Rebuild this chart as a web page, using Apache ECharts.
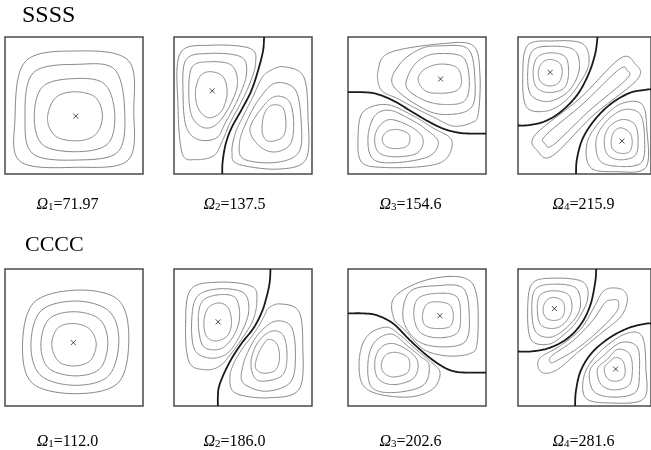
<!DOCTYPE html>
<html><head><meta charset="utf-8">
<script src="https://cdn.jsdelivr.net/npm/echarts@6/dist/echarts.min.js"></script>
<style>html,body{margin:0;padding:0;background:#fff}#c{width:651px;height:450px}</style>
</head><body><div id="c"></div>
<script>
// ---------- text ----------
const rowLabels = ['SSSS', 'CCCC'];
const modeIndex = ['1', '2', '3', '4'];
const ssssOmega = ['71.97', '137.5', '154.6', '215.9'];
const ccccOmega = ['112.0', '186.0', '202.6', '281.6'];

// ---------- digitised contours (x: 0-100 left->right, y: 0-100 top->bottom) ----------
const ssss1Contours = [
 [[49.4,40.0],[65.1,43.7],[70.6,57.0],[66.3,70.4],[54.2,75.7],[37.3,72.8],[30.8,60.2],[36.1,44.9]],
 [[51.8,30.3],[72.3,34.5],[79.5,55.8],[74.7,77.7],[53.0,83.7],[27.7,78.9],[21.2,58.3],[27.7,35.9]],
 [[54.2,19.9],[79.5,23.8],[86.7,53.4],[81.9,83.7],[51.8,89.8],[20.5,85.4],[14.5,60.7],[20.5,26.2]],
 [[51.8,10.2],[89.2,17.0],[93.3,53.4],[89.2,89.8],[51.8,95.1],[11.3,91.0],[7.2,60.7],[14.5,18.2]]
];
const ssss1Nodal = [];
const ssss1Max = [[51.3,57.8]];

const ssss2Contours = [
 [[26.0,25.3],[35.5,29.0],[38.5,41.0],[34.5,54.0],[25.5,59.0],[18.0,53.0],[15.5,41.0],[18.7,29.0]],
 [[24.8,18.1],[41.5,20.5],[46.0,34.0],[40.0,51.0],[30.5,64.0],[21.0,66.0],[13.0,58.0],[10.7,40.0],[13.1,22.0]],
 [[24.8,12.0],[48.5,14.5],[52.5,27.0],[46.5,45.0],[37.5,62.0],[31.0,73.5],[18.0,75.0],[9.0,66.0],[6.6,43.0],[8.5,17.0]],
 [[27.2,6.0],[55.5,8.5],[59.0,20.0],[54.5,35.0],[48.5,48.0],[40.5,63.0],[35.0,76.0],[29.0,86.5],[16.0,89.5],[6.0,85.0],[2.9,50.6],[4.5,12.0]],
 [[73.3,49.4],[79.4,52.5],[81.1,65.1],[78.2,73.5],[68.4,76.1],[64.1,70.4],[64.6,59.0],[68.0,51.8]],
 [[73.3,43.4],[83.5,47.0],[86.7,62.7],[84.2,78.3],[73.3,83.9],[62.4,80.0],[55.0,67.5],[63.6,51.8]],
 [[73.3,33.7],[87.9,38.6],[92.2,62.7],[90.3,84.3],[73.3,91.6],[50.5,89.0],[47.5,77.0],[52.5,62.0],[61.5,45.5]],
 [[68.4,25.3],[79.4,21.7],[93.9,28.9],[97.1,57.8],[95.6,89.2],[75.7,96.4],[46.6,92.8],[42.0,84.3],[44.5,70.0],[50.5,57.0],[57.5,43.0],[63.0,31.0]]
];
const ssss2Nodal = [[[65.3,0],[64.6,9.6],[61.7,21.7],[56.3,38.6],[49.0,53.0],[41.7,66.3],[37.4,78.3],[35.2,91.6],[35.0,100]]];
const ssss2Max = [[27.7,39.3]];

const ssss3Contours = [
 [[66.6,19.8],[78.7,22.2],[82.3,31.9],[78.7,39.1],[66.6,41.1],[55.7,39.1],[50.8,30.7],[55.7,23.4]],
 [[66.6,12.1],[83.5,15.0],[87.9,31.9],[84.7,46.4],[71.4,49.3],[55.7,46.4],[42.4,36.7],[46.0,23.4],[54.5,15.0]],
 [[66.6,6.5],[87.2,8.9],[92.0,31.9],[89.6,51.2],[74.0,56.5],[56.0,53.0],[32.7,35.5],[37.5,19.8],[52.0,8.9]],
 [[69.0,4.8],[90.8,6.5],[95.6,27.1],[94.4,56.0],[89.6,62.5],[76.3,65.0],[62.0,58.5],[48.0,51.5],[36.0,45.0],[24.0,38.5],[21.8,24.6],[30.3,11.4]],
 [[36.3,67.6],[43.6,70.5],[44.8,75.4],[41.9,80.2],[32.7,81.4],[26.6,79.0],[24.9,73.5],[29.1,68.6]],
 [[32.7,60.4],[48.0,67.0],[54.5,75.4],[49.6,85.0],[32.7,87.4],[21.8,83.8],[19.4,72.9],[24.2,63.3]],
 [[30.3,53.5],[45.0,60.0],[56.0,67.0],[65.4,76.6],[58.1,87.4],[32.7,91.8],[17.7,88.6],[14.5,72.9],[19.4,57.5]],
 [[27.8,49.3],[47.2,57.5],[61.7,66.5],[75.0,75.0],[71.4,88.6],[56.9,94.2],[25.4,95.2],[9.7,91.1],[7.3,72.9],[10.9,54.8]]
];
const ssss3Nodal = [[[0,40.3],[10.9,40.3],[20.6,41.5],[32.7,46.4],[44.8,53.6],[56.9,60.9],[69.0,66.9],[81.1,70.0],[92.0,70.5],[100,70.5]]];
const ssss3Max = [[67.1,30.7]];

const ssss4Contours = [
 [[24.2,16.4],[31.5,19.3],[33.2,26.5],[30.3,33.7],[23.0,35.7],[16.9,32.5],[15.3,25.3],[18.2,18.8]],
 [[24.2,11.6],[35.6,14.5],[38.0,26.5],[34.6,37.3],[23.0,40.5],[13.8,36.6],[11.4,25.3],[14.5,14.9]],
 [[24.2,6.7],[42.4,9.6],[46.0,24.1],[38.0,39.5],[23.0,47.0],[9.7,42.2],[7.3,25.3],[10.9,10.1]],
 [[25.4,2.9],[48.4,4.8],[53.3,19.3],[45.5,35.0],[34.5,47.5],[20.6,54.2],[6.1,50.6],[3.6,26.5],[7.3,6.0]],
 [[77.5,66.3],[84.0,69.9],[85.9,77.1],[83.5,83.9],[76.3,84.8],[70.9,81.4],[70.2,74.7],[72.6,68.7]],
 [[78.7,60.2],[87.9,63.9],[90.3,75.9],[87.9,86.7],[76.3,89.6],[67.1,85.5],[64.9,74.7],[69.0,65.1]],
 [[79.9,53.0],[92.0,56.6],[95.2,74.7],[92.7,91.6],[76.3,94.5],[61.7,90.4],[58.8,74.7],[67.0,61.0]],
 [[78.0,48.5],[93.2,49.0],[96.9,67.5],[96.1,95.2],[73.8,98.3],[54.5,95.2],[52.0,77.1],[63.0,60.0]],
 [[76.7,15.7],[87.8,19.2],[89.9,30.7],[56.6,57.2],[25.9,86.7],[14.8,83.2],[12.7,71.7],[46.0,45.2]],
 [[75.8,23.8],[82.0,24.4],[81.8,30.6],[53.6,53.8],[26.8,78.6],[20.6,78.0],[20.8,71.8],[49.0,48.6]]
];
const ssss4Nodal = [
 [[59.8,0],[58.1,12.0],[53.3,26.5],[44.8,41.9],[32.7,54.2],[20.6,61.4],[8.5,64.3],[0,64.6]],
 [[43.6,100],[44.3,89.2],[48.4,74.7],[56.9,61.4],[69.0,49.4],[83.5,41.0],[95.6,38.6],[100,38.1]]
];
const ssss4Max = [[24.2,25.8],[78.2,75.9]];

const cccc1Contours = [
 [[48.8,39.8],[60.8,43.4],[66.1,54.4],[62.0,66.6],[51.2,70.7],[39.2,67.8],[33.9,55.6],[38.0,43.4]],
 [[50.0,31.2],[68.5,36.7],[74.5,53.2],[69.0,72.5],[51.2,78.0],[31.8,72.5],[26.0,55.6],[31.8,36.7]],
 [[51.2,23.4],[75.2,30.6],[82.5,51.9],[75.2,77.8],[51.2,84.9],[26.0,77.8],[18.8,55.6],[26.0,30.6]],
 [[52.4,15.4],[82.0,22.5],[89.7,49.5],[82.5,82.5],[52.4,91.0],[20.0,83.5],[12.7,55.6],[21.0,24.5]]
];
const cccc1Nodal = [];
const cccc1Max = [[49.5,53.7]];

const cccc2Contours = [
 [[32.5,24.8],[39.3,28.4],[41.7,39.3],[38.6,48.9],[30.1,52.5],[23.4,48.9],[21.7,38.1],[24.8,28.4]],
 [[32.5,18.8],[44.6,21.2],[47.5,35.7],[42.5,50.0],[33.0,58.5],[21.0,56.0],[17.6,38.1],[20.5,23.6]],
 [[32.5,14.5],[50.6,17.6],[54.0,32.0],[47.0,50.0],[38.0,62.0],[26.0,65.0],[15.0,59.0],[12.8,38.1],[16.9,20.0]],
 [[32.5,9.6],[56.6,12.8],[60.0,24.0],[57.0,38.0],[49.5,50.5],[42.0,61.0],[33.0,71.0],[22.0,73.5],[11.0,68.0],[8.4,42.9],[12.0,15.2]],
 [[68.7,51.3],[74.7,54.9],[76.4,65.8],[73.0,74.2],[63.9,75.9],[59.0,71.8],[60.5,63.4],[64.5,55.5]],
 [[71.1,45.3],[79.5,48.9],[81.9,64.6],[78.3,77.8],[63.9,81.9],[57.5,77.8],[56.0,65.8],[61.5,52.5]],
 [[73.5,38.1],[85.1,42.4],[88.0,63.4],[84.3,82.7],[66.3,89.2],[50.0,83.0],[50.0,70.5],[54.5,58.5],[62.0,46.5]],
 [[68.7,28.4],[77.1,25.5],[90.4,30.8],[93.3,54.9],[90.8,87.5],[68.7,94.0],[44.6,90.6],[40.5,79.0],[44.0,67.5],[50.0,57.5],[56.5,49.0],[61.5,41.5],[65.5,34.0]]
];
const cccc2Nodal = [[[69.9,0],[69.4,9.2],[67.5,18.8],[63.9,30.8],[57.8,42.9],[49.4,53.7],[42.2,64.6],[36.1,76.6],[32.5,86.3],[31.8,93.5],[31.8,100]]];
const cccc2Max = [[32.0,38.6]];

const cccc3Contours = [
 [[64.2,23.9],[73.8,26.3],[76.3,34.9],[73.4,42.2],[62.9,43.4],[55.7,40.9],[54.0,33.7],[56.9,25.9]],
 [[64.2,17.8],[78.7,20.2],[81.6,34.9],[78.7,47.1],[64.2,50.2],[52.0,45.9],[47.7,33.7],[50.8,21.5]],
 [[64.2,12.2],[83.5,14.1],[87.9,34.9],[84.7,53.2],[66.6,56.8],[49.6,51.9],[39.9,36.1],[44.8,16.6]],
 [[56.9,8.0],[83.5,6.3],[93.2,19.0],[93.7,53.2],[88.4,61.7],[71.4,63.4],[54.5,58.5],[41.2,44.5],[33.2,36.1],[33.9,20.2]],
 [[35.1,60.9],[42.9,64.1],[44.8,70.2],[42.4,76.3],[32.7,78.8],[25.9,75.6],[24.2,69.0],[27.8,62.4]],
 [[32.7,54.4],[45.0,60.5],[50.8,69.0],[47.2,80.0],[32.7,84.4],[21.8,80.0],[19.4,67.8],[23.5,57.6]],
 [[31.5,47.5],[43.0,56.0],[52.0,63.5],[58.8,70.2],[54.5,84.9],[32.7,90.2],[17.0,86.1],[14.5,67.8],[19.4,53.2]],
 [[27.8,42.5],[38.0,48.5],[48.0,57.5],[58.0,66.0],[66.6,75.1],[61.7,87.3],[44.8,93.4],[20.6,90.9],[9.7,82.4],[8.5,62.9],[14.5,48.3]]
];
const cccc3Nodal = [[[0,32.4],[10.9,32.4],[20.6,33.7],[32.7,39.8],[44.8,51.9],[56.9,62.9],[69.0,71.5],[78.7,75.1],[90.8,75.6],[100,75.6]]];
const cccc3Max = [[66.6,34.1]];

const cccc4Contours = [
 [[26.6,20.7],[33.2,23.1],[35.1,29.6],[32.7,35.7],[26.6,37.6],[20.6,35.2],[18.9,28.9],[21.3,23.1]],
 [[26.6,15.9],[38.0,18.8],[40.4,29.6],[35.0,39.5],[26.6,43.4],[16.9,40.5],[14.5,28.4],[16.9,18.8]],
 [[26.6,11.1],[43.6,14.0],[46.7,28.4],[39.0,40.5],[25.4,49.6],[13.3,45.8],[10.4,28.4],[13.3,14.5]],
 [[26.6,6.7],[48.4,9.2],[52.5,21.2],[45.0,37.0],[35.0,47.5],[23.0,54.9],[9.7,51.3],[7.3,28.4],[10.9,10.4]],
 [[73.4,64.6],[78.7,67.0],[80.6,74.2],[78.7,80.2],[71.9,81.9],[66.6,79.0],[64.9,72.3],[68.5,68.0]],
 [[75.1,58.6],[84.0,62.2],[86.0,74.2],[83.1,85.1],[71.4,88.2],[62.2,83.9],[59.8,73.0],[67.0,66.0]],
 [[77.5,53.7],[89.6,56.9],[91.3,74.2],[88.4,89.9],[71.4,93.5],[56.9,89.2],[54.0,74.2],[64.0,63.5]],
 [[79.9,47.7],[93.2,48.9],[96.1,71.8],[94.4,94.7],[69.0,97.8],[50.8,94.0],[50.0,77.0],[61.0,61.0]],
 [[69.0,14.0],[78.7,15.2],[82.3,22.4],[77.5,34.5],[63.0,46.5],[44.8,61.0],[30.3,73.0],[20.6,76.1],[15.3,72.3],[16.9,64.6],[31.0,56.5],[47.0,44.0],[56.9,28.4],[63.0,17.6]],
 [[70.2,22.7],[75.1,23.1],[74.3,30.8],[61.7,44.1],[44.8,57.8],[29.1,66.9],[24.2,68.2],[25.4,63.4],[41.2,52.5],[55.7,38.1],[65.4,24.6]]
];
const cccc4Nodal = [
 [[58.8,0],[58.1,9.2],[54.5,26.0],[47.2,40.5],[36.3,51.3],[23.0,57.8],[9.7,60.2],[0,60.2]],
 [[42.9,100],[43.6,88.7],[47.2,74.2],[55.7,61.0],[69.0,50.1],[83.5,42.9],[95.6,40.0],[100,39.8]]
];
const cccc4Max = [[27.4,28.9],[73.4,73.0]];

// ---------- assembly ----------
const panelContours = [ssss1Contours, ssss2Contours, ssss3Contours, ssss4Contours,
                       cccc1Contours, cccc2Contours, cccc3Contours, cccc4Contours];
const panelNodal = [ssss1Nodal, ssss2Nodal, ssss3Nodal, ssss4Nodal,
                    cccc1Nodal, cccc2Nodal, cccc3Nodal, cccc4Nodal];
const panelMax = [ssss1Max, ssss2Max, ssss3Max, ssss4Max,
                  cccc1Max, cccc2Max, cccc3Max, cccc4Max];

const colLeft = [5, 174, 348, 518];
const rowTop = [37, 269];
const boxW = 138, boxH = 137;
const labelX = [67.5, 234.5, 410.5, 583.5];
const labelY = [204.5, 441.5];

// Catmull-Rom curve through the (pixel) points, drawn as a fine polyline
function spline(P, closed) {
  const n = P.length, out = [];
  const get = i => closed ? P[(i + n) % n] : P[Math.max(0, Math.min(n - 1, i))];
  const segs = closed ? n : n - 1;
  for (let i = 0; i < segs; i++) {
    const p0 = get(i - 1), p1 = get(i), p2 = get(i + 1), p3 = get(i + 2);
    const c1 = [p1[0] + (p2[0] - p0[0]) / 6, p1[1] + (p2[1] - p0[1]) / 6];
    const c2 = [p2[0] - (p3[0] - p1[0]) / 6, p2[1] - (p3[1] - p1[1]) / 6];
    for (let k = 0; k < 20; k++) {
      const t = k / 20, m = 1 - t;
      const a = m * m * m, b = 3 * m * m * t, c = 3 * m * t * t, d = t * t * t;
      out.push([a * p1[0] + b * c1[0] + c * c2[0] + d * p2[0], a * p1[1] + b * c1[1] + c * c2[1] + d * p2[1]]);
    }
  }
  if (!closed) out.push(P[n - 1]);
  return out;
}

const grids = [], xAxes = [], yAxes = [], series = [];
for (let p = 0; p < 8; p++) {
  const r = Math.floor(p / 4), c = p % 4;
  grids.push({left: colLeft[c], top: rowTop[r], width: boxW, height: boxH,
              show: true, borderColor: '#4a4a4a', borderWidth: 1.5, backgroundColor: 'transparent'});
  xAxes.push({gridIndex: p, type: 'value', min: 0, max: 100, show: false});
  yAxes.push({gridIndex: p, type: 'value', min: 0, max: 100, inverse: true, show: false});
  panelContours[p].forEach(pts => {
    series.push({
      type: 'custom', xAxisIndex: p, yAxisIndex: p, data: pts, encode: {x: 0, y: 1},
      silent: true, clip: true,
      renderItem: (params, api) => {
        if (params.dataIndex !== 0) return null;
        return {type: 'polygon', shape: {points: spline(pts.map(q => api.coord(q)), true)},
                style: {fill: 'none', stroke: '#858585', lineWidth: 1}};
      }
    });
  });
  panelNodal[p].forEach(pts => {
    series.push({
      type: 'custom', xAxisIndex: p, yAxisIndex: p, data: pts, encode: {x: 0, y: 1},
      silent: true, clip: true,
      renderItem: (params, api) => {
        if (params.dataIndex !== 0) return null;
        return {type: 'polyline', shape: {points: spline(pts.map(q => api.coord(q)), false)},
                style: {fill: 'none', stroke: '#1a1a1a', lineWidth: 1.8}};
      }
    });
  });
  series.push({type: 'scatter', xAxisIndex: p, yAxisIndex: p, data: panelMax[p], silent: true,
    symbol: 'path://M0,0L10,10M10,0L0,10', symbolSize: 5,
    itemStyle: {color: 'none', borderColor: '#222', borderWidth: 1}});
}

const graphics = [];
rowLabels.forEach((t, r) => {
  graphics.push({type: 'text', x: r === 0 ? 22 : 25, y: r === 0 ? 16 : 245,
    style: {text: t, fill: '#000', font: (r === 0 ? '24px' : '22px') + ' "Liberation Serif", serif',
            verticalAlign: 'middle', align: 'left'}});
});
[ssssOmega, ccccOmega].forEach((vals, r) => {
  vals.forEach((v, c) => {
    graphics.push({type: 'text', x: labelX[c], y: labelY[r],
      style: {text: '{o|Ω}{s|' + modeIndex[c] + '}{n|=' + v + '}', align: 'center', verticalAlign: 'middle',
        rich: {
          o: {fontFamily: '"Liberation Serif", serif', fontStyle: 'italic', fontSize: 16, fill: '#000'},
          s: {fontFamily: '"Liberation Serif", serif', fontSize: 11, fill: '#000', verticalAlign: 'bottom'},
          n: {fontFamily: '"Liberation Serif", serif', fontSize: 16, fill: '#000'}
        }}});
  });
});

const chart = echarts.init(document.getElementById('c'), null, {renderer: 'canvas'});
chart.setOption({
  animation: false,
  backgroundColor: '#fff',
  grid: grids, xAxis: xAxes, yAxis: yAxes, series: series,
  graphic: graphics
});
</script>
</body></html>
